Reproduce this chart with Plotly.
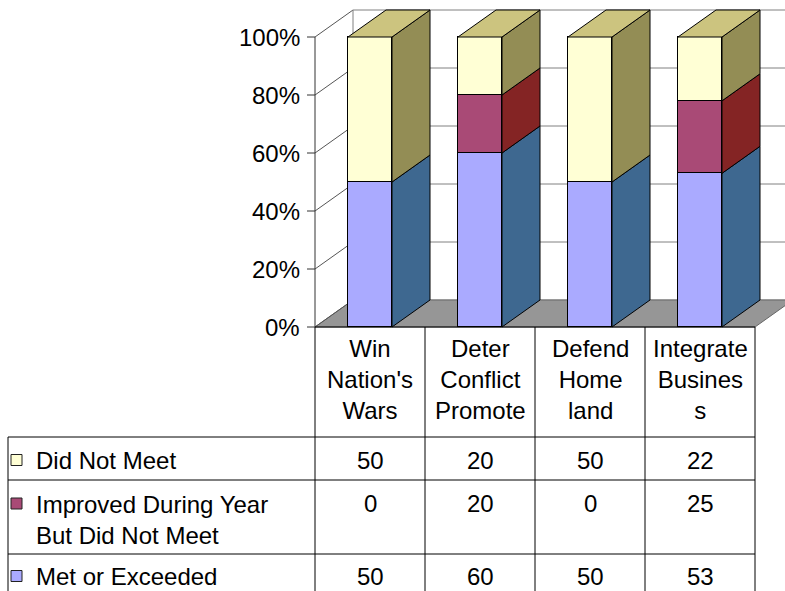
import plotly.graph_objects as go

# ---------------- data ----------------
categories = ["Win<br>Nation's<br>Wars", "Deter<br>Conflict<br>Promote",
              "Defend<br>Home<br>land", "Integrate<br>Busines<br>s"]
met_or_exceeded = [50, 60, 50, 53]
improved_not_met = [0, 20, 0, 25]
did_not_meet = [50, 20, 50, 22]
series_names = ["Did Not Meet", "Improved During Year<br>But Did Not Meet", "Met or Exceeded"]
y_ticks = [0, 20, 40, 60, 80, 100]
y_tick_labels = ["0%", "20%", "40%", "60%", "80%", "100%"]

# ---------------- styling / geometry ----------------
W, H = 785, 591
X0PIX, XSTEP = 370.0, 110.0      # pixel of category 0 centre, pixels per category
Y0PIX, YSTEP = 327.0, 2.9        # pixel of value 0, pixels per percent


def X(px):
    return (px - X0PIX) / XSTEP


def Y(py):
    return (Y0PIX - py) / YSTEP


DX = 38 / XSTEP                  # depth offset in x units
DY = 27 / YSTEP                  # depth offset in y units
HALF = 0.2                       # half bar width
FONT = dict(family="Liberation Sans, Arial, sans-serif", size=24, color="black")

front_cols = {"met": "#AAAAFF", "imp": "#A94A76", "dnm": "#FFFFD5"}
side_cols = {"met": "#3E6890", "imp": "#842424", "dnm": "#938D55"}
top_col = "#CCC47F"

n = len(categories)
xs = list(range(n))

fig = go.Figure()

# front faces through the bar scale
stack = [("met", met_or_exceeded, series_names[2]),
         ("imp", improved_not_met, series_names[1]),
         ("dnm", did_not_meet, series_names[0])]
for key, vals, name in stack:
    fig.add_trace(go.Bar(x=xs, y=vals, width=2 * HALF, name=name,
                         marker=dict(color=front_cols[key], line=dict(color="black", width=1)),
                         hoverinfo="skip", showlegend=False))

# side and top faces (derived from the data)
for i in xs:
    base = 0
    for key, vals, name in stack:
        v = vals[i]
        if v > 0:
            r = i + HALF
            fig.add_trace(go.Scatter(
                x=[r, r + DX, r + DX, r, r],
                y=[base, base + DY, base + v + DY, base + v, base],
                mode="lines", fill="toself", fillcolor=side_cols[key],
                line=dict(color="black", width=1), hoverinfo="skip", showlegend=False))
        base += v
    l, r = i - HALF, i + HALF
    fig.add_trace(go.Scatter(
        x=[l, r, r + DX, l + DX, l],
        y=[base, base, base + DY, base + DY, base],
        mode="lines", fill="toself", fillcolor=top_col,
        line=dict(color="black", width=1), hoverinfo="skip", showlegend=False))

shapes = []
xl, xr = -0.5, n - 0.5
# floor
shapes.append(dict(type="path", layer="below",
                   path=f"M{xl},0 L{xr},0 L{xr + DX},{DY} L{xl + DX},{DY} Z",
                   fillcolor="#969696", line=dict(color="#666666", width=1)))
# back wall gridlines and left wall diagonals
for t in y_ticks:
    shapes.append(dict(type="line", layer="below", x0=xl + DX, x1=xr + DX + 1,
                       y0=t + DY, y1=t + DY, line=dict(color="#808080", width=1)))
    shapes.append(dict(type="line", layer="below", x0=xl, x1=xl + DX,
                       y0=t, y1=t + DY, line=dict(color="#555555", width=1)))
    # tick marks
    shapes.append(dict(type="line", layer="above", x0=xl - 8 / XSTEP, x1=xl,
                       y0=t, y1=t, line=dict(color="#333333", width=1)))
shapes.append(dict(type="line", layer="below", x0=xl + DX, x1=xl + DX,
                   y0=DY, y1=100 + DY, line=dict(color="#808080", width=1)))
# value axis line
shapes.append(dict(type="line", layer="above", x0=xl, x1=xl, y0=0, y1=100,
                   line=dict(color="#333333", width=1)))

# ---------------- data table ----------------
tbl_left = X(8)
row_lines = [Y(437), Y(480), Y(554)]
tbl_bottom = Y(H + 5)
line_style = dict(color="black", width=1)
shapes.append(dict(type="line", layer="above", x0=xl, x1=xr, y0=0, y1=0, line=line_style))
for yy in row_lines:
    shapes.append(dict(type="line", layer="above", x0=tbl_left, x1=xr, y0=yy, y1=yy, line=line_style))
for k in range(n + 1):
    shapes.append(dict(type="line", layer="above", x0=k - 0.5, x1=k - 0.5,
                       y0=0, y1=tbl_bottom, line=line_style))
shapes.append(dict(type="line", layer="above", x0=tbl_left, x1=tbl_left,
                   y0=row_lines[0], y1=tbl_bottom, line=line_style))

annotations = []
# y tick labels
for t, lab in zip(y_ticks, y_tick_labels):
    annotations.append(dict(x=xl, y=t, text=lab, showarrow=False, xanchor="right",
                            yanchor="middle", xshift=-13, font=FONT))
# category headers
for i, c in enumerate(categories):
    annotations.append(dict(x=i, y=Y(379.5), text=c, showarrow=False, xanchor="center",
                            yanchor="middle", font=FONT))

row_centers = [Y(460), Y(503.5), Y(576)]
row_label_centers = [Y(460), Y(519.5), Y(576)]
row_values = [did_not_meet, improved_not_met, met_or_exceeded]
row_keys = ["dnm", "imp", "met"]
for r in range(3):
    annotations.append(dict(x=X(34), y=row_label_centers[r], text=series_names[r],
                            showarrow=False, xanchor="left", yanchor="middle",
                            align="left", font=FONT))
    for i in xs:
        annotations.append(dict(x=i, y=row_centers[r], text=str(row_values[r][i]),
                                showarrow=False, xanchor="center", yanchor="middle", font=FONT))
    shapes.append(dict(type="rect", layer="above", x0=X(11), x1=X(22),
                       y0=row_centers[r] - 5.5 / YSTEP, y1=row_centers[r] + 5.5 / YSTEP,
                       fillcolor=front_cols[row_keys[r]], line=dict(color="#222222", width=1)))

fig.update_layout(
    width=W, height=H, autosize=False,
    margin=dict(l=0, r=0, t=0, b=0, pad=0),
    paper_bgcolor="white", plot_bgcolor="white",
    barmode="stack", bargap=0,
    showlegend=False,
    xaxis=dict(range=[X(0), X(W)], visible=False, fixedrange=True),
    yaxis=dict(range=[Y(H), Y(0)], visible=False, fixedrange=True),
    shapes=shapes, annotations=annotations,
)

fig.write_html("out.html", config={"displayModeBar": False},
               post_script="document.body.style.margin='0px';document.body.style.overflow='hidden';")
